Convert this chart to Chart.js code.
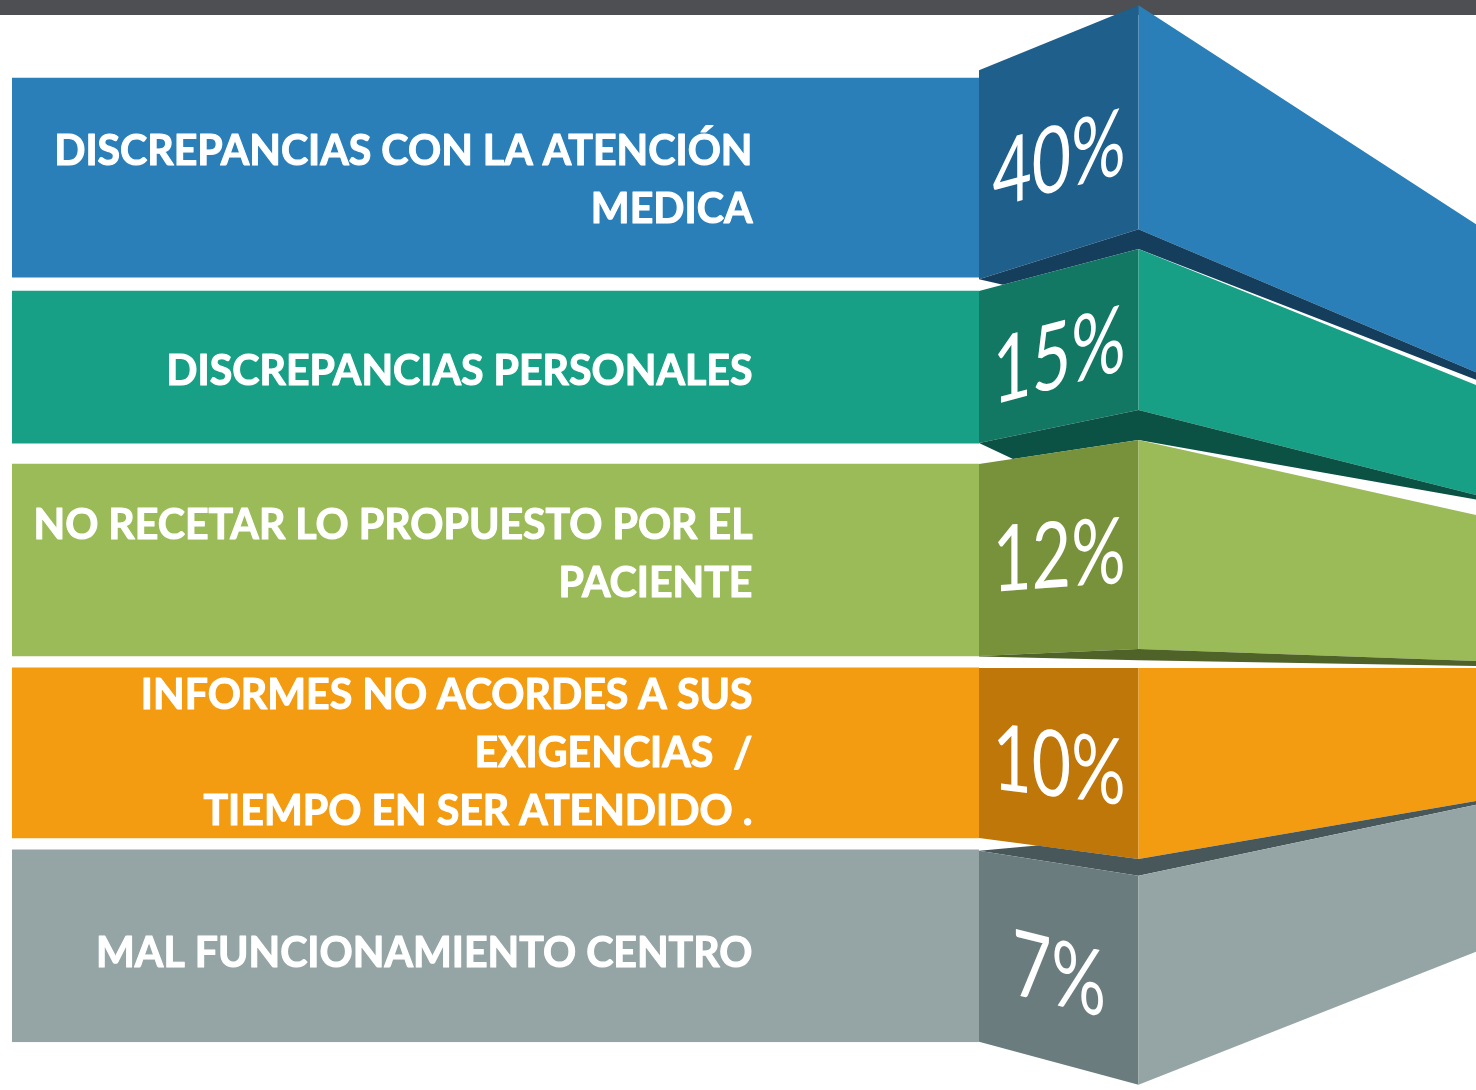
<!DOCTYPE html>
<html>
<head>
<meta charset="utf-8">
<script src="https://cdn.jsdelivr.net/npm/chart.js@4.4.1/dist/chart.umd.min.js"></script>
<style>
  html, body { margin: 0; padding: 0; background: #fff; }
  canvas { display: block; }
</style>
</head>
<body>
<canvas id="chart" width="1476" height="1090"></canvas>
<script>
// === DATA ===
const categories = [
  ["DISCREPANCIAS CON LA ATENCIÓN", "MEDICA"],
  ["DISCREPANCIAS PERSONALES"],
  ["NO RECETAR LO PROPUESTO POR EL", "PACIENTE"],
  ["INFORMES NO ACORDES A SUS", "EXIGENCIAS  /", "TIEMPO EN SER ATENDIDO ."],
  ["MAL FUNCIONAMIENTO CENTRO"]
];
const shares = [40, 15, 12, 10, 7];
// every band runs the full width of the panel
const bandLength = [100, 100, 100, 100, 100];

// === STYLE / LAYOUT ===
const bandColors = ["#2a7fb8", "#17a086", "#9bbb59", "#f39c12", "#95a5a5"];
const frontColors = ["#1f5f8b", "#127863", "#77923b", "#be7708", "#6a7c7d"];
const gapColors = ["#153e5d", "#0c5244", "#4f6228", "#48575a"];
const bandThickness = [206, 152, 192, 170, 192];

// ribbon corners, px from the bar's top / bottom at [front-left, front-right, far edge]
const topEdge = [[-1, -66, 153], [0, -42, 94], [0, -24, 51], [0, 0, 0], [1, 26, -45]];
const bottomEdge = [[2, -48, 95], [0, -33, 52], [0, -7, 5], [0, 21, -37], [0, 43, -90]];
const pctShift = [-17, -13, -6, 11, 27];
const pctSlant = [-15, -15, -4, 7, 14];
const labelShift = [5, 3, -7, -1, 6];

function poly(c, pts, color) {
  c.beginPath();
  pts.forEach(([x, y], k) => (k ? c.lineTo(x, y) : c.moveTo(x, y)));
  c.closePath();
  c.fillStyle = color;
  c.fill();
}

// point on the line p -> q at a given x
function along(p, q, x) {
  const t = (x - p[0]) / (q[0] - p[0]);
  return [x, p[1] + (q[1] - p[1]) * t];
}

const ribbon = {
  id: "ribbon",
  beforeDraw(chart) {
    const c = chart.ctx;
    c.save();
    c.fillStyle = "#ffffff";
    c.fillRect(0, 0, chart.width, chart.height);
    c.fillStyle = "#4e4f53";
    c.fillRect(0, 0, chart.width, 15);
    c.restore();
  },
  afterDatasetsDraw(chart) {
    const c = chart.ctx;
    const frontW = 159.5;

    const bands = chart.data.datasets.map((ds, i) => {
      const bar = chart.getDatasetMeta(i).data[i];
      const top = bar.y - bar.height / 2;
      const bottom = bar.y + bar.height / 2;
      const xs = [bar.x, bar.x + frontW, chart.width];
      return {
        bar,
        xs,
        top: xs.map((x, k) => [x, top + topEdge[i][k]]),
        bottom: xs.map((x, k) => [x, bottom + bottomEdge[i][k]])
      };
    });

    c.save();
    bands.forEach((b, i) => {
      const [xL, xR, xF] = b.xs;
      poly(c, [b.top[0], b.top[1], b.bottom[1], b.bottom[0]], frontColors[i]);
      poly(c, [b.top[1], b.top[2], b.bottom[2], b.bottom[1]], bandColors[i]);

      const n = bands[i + 1];
      if (!n) return;
      let gap;
      if (i === 0 || i === 1) {
        const farGap = i === 0 ? 7.5 : 4.3;
        const cut = i === 0 ? 24 : 34;
        gap = [b.bottom[0], b.bottom[1], b.bottom[2],
          [xF, b.bottom[2][1] + farGap], n.top[1], along(n.top[1], n.top[0], xL + cut)];
      } else if (i === 2) {
        gap = [b.bottom[0], b.bottom[1], b.bottom[2],
          [xF, b.bottom[2][1] + 5], [xR, b.bottom[1][1] + 11.3], [xL, b.bottom[0][1] + 0.5]];
      } else {
        gap = [along(b.bottom[0], b.bottom[1], xL + 58), b.bottom[1], b.bottom[2],
          n.top[2], n.top[1], n.top[0]];
      }
      poly(c, gap, gapColors[i]);
    });

    // percentages on the front faces
    c.fillStyle = "#ffffff";
    c.textAlign = "center";
    c.textBaseline = "alphabetic";
    c.font = "400 92px Lato, 'Open Sans', sans-serif";
    const pctScale = 133 / c.measureText("12%").width;
    bands.forEach((b, i) => {
      c.save();
      c.translate(b.xs[0] + 80, b.bar.y + pctShift[i]);
      c.transform(1, Math.tan(pctSlant[i] * Math.PI / 180), 0, 1, 0, 0);
      c.scale(pctScale, 1);
      c.fillText(shares[i] + "%", 0, 33);
      c.restore();
    });

    // category labels, right aligned
    c.font = "bold 42px Lato, 'Open Sans', sans-serif";
    c.textAlign = "right";
    c.strokeStyle = "#ffffff";
    c.lineWidth = 1.1;
    c.lineJoin = "round";
    const labelScale = 719 / c.measureText(categories[2][0]).width;
    const lineGap = 57.7;
    bands.forEach((b, i) => {
      const lines = categories[i];
      lines.forEach((line, k) => {
        const capMid = b.bar.y + labelShift[i] + (k - (lines.length - 1) / 2) * lineGap;
        c.save();
        c.translate(b.xs[0] - 226.5, capMid + 15);
        c.scale(labelScale, 1);
        c.fillText(line, 0, 0);
        c.strokeText(line, 0, 0);
        c.restore();
      });
    });
    c.restore();
  }
};

// === CHART ===
new Chart(document.getElementById("chart").getContext("2d"), {
  type: "bar",
  data: {
    labels: categories.map(lines => lines.join(" ")),
    datasets: categories.map((lines, i) => ({
      label: lines.join(" "),
      data: bandLength.map((v, j) => (j === i ? v : null)),
      backgroundColor: bandColors[i],
      borderWidth: 0,
      barThickness: bandThickness[i],
      grouped: false
    }))
  },
  options: {
    indexAxis: "y",
    responsive: false,
    animation: false,
    layout: { padding: { left: 12, right: 497, top: 77.75, bottom: 47.75 } },
    scales: {
      x: { display: false, min: 0, max: 100 },
      y: { display: false }
    },
    plugins: {
      legend: { display: false },
      tooltip: { enabled: false }
    }
  },
  plugins: [ribbon]
});
</script>
</body>
</html>
